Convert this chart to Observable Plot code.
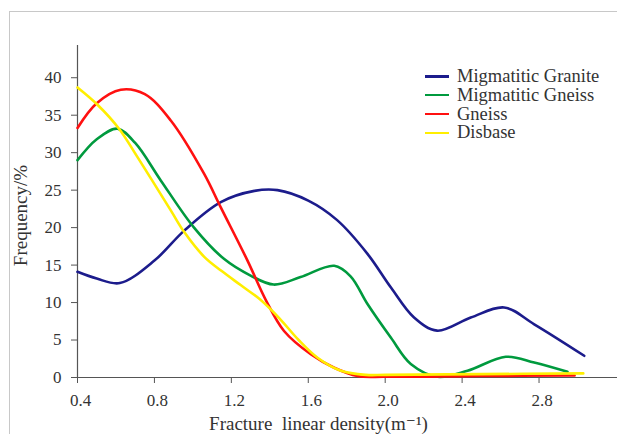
<!DOCTYPE html>
<html><head><meta charset="utf-8">
<script src="https://cdn.jsdelivr.net/npm/d3@7"></script>
<script src="https://cdn.jsdelivr.net/npm/@observablehq/plot@0.6"></script>
<style>
body{margin:0;background:#fff;}
#wrap{position:relative;width:617px;height:434px;overflow:hidden;background:#fff;}
#frame{position:absolute;left:9px;top:11px;width:700px;height:500px;border-top:1px solid #c8c8c8;border-left:1px solid #c8c8c8;pointer-events:none;}
#legend{position:absolute;left:425px;top:67px;font-family:"Liberation Serif","Times New Roman",Tinos,"DejaVu Serif",serif;font-size:18.5px;color:#333;}
.row{display:flex;align-items:center;height:18.8px;white-space:nowrap;}
.sw{width:24px;height:2.5px;margin-right:8px;}
</style>
</head><body>
<div id="wrap"></div>
<script>
const seriesNames = ["Migmatitic Granite", "Migmatitic Gneiss", "Gneiss", "Disbase"];
const seriesColors = ["#1c1c8c", "#009a3e", "#ff1010", "#ffee00"];

const granX = [0.4, 0.5, 0.62, 0.8, 0.955, 1.145, 1.32, 1.44, 1.6, 1.75, 1.908, 2.03, 2.15, 2.27, 2.445, 2.618, 2.775, 3.035];
const granF = [14.1, 13.2, 12.6, 15.6, 19.6, 23.4, 24.9, 25.0, 23.6, 21.0, 16.5, 12.0, 8.0, 6.25, 8.0, 9.35, 7.1, 2.9];

const mgnX = [0.4, 0.5, 0.608, 0.7, 0.833, 1.006, 1.163, 1.3, 1.42, 1.56, 1.735, 1.82, 1.908, 2.03, 2.133, 2.272, 2.428, 2.627, 2.775, 2.948];
const mgnF = [29.0, 31.8, 33.2, 31.3, 26.3, 20.0, 15.8, 13.6, 12.4, 13.4, 14.9, 13.5, 9.8, 5.3, 1.8, 0.1, 0.9, 2.77, 2.0, 0.76];

const gnX = [0.4, 0.5, 0.625, 0.75, 0.885, 1.058, 1.145, 1.284, 1.38, 1.474, 1.613, 1.735, 1.856, 2.0, 2.5, 2.985];
const gnF = [33.3, 36.6, 38.4, 37.8, 34.3, 27.2, 22.7, 15.6, 10.3, 6.2, 3.1, 1.3, 0.2, 0.1, 0.2, 0.27];

const disX = [0.4, 0.504, 0.616, 0.712, 0.885, 0.955, 1.059, 1.15, 1.25, 1.35, 1.45, 1.55, 1.65, 1.77, 1.9, 2.0, 2.5, 3.03];
const disF = [38.7, 36.4, 33.2, 29.4, 22.3, 19.4, 16.1, 14.2, 12.3, 10.4, 7.9, 5.0, 2.6, 0.9, 0.35, 0.35, 0.45, 0.55];

const xTicks = [0.4, 0.8, 1.2, 1.6, 2.0, 2.4, 2.8];
const yTicks = [0, 5, 10, 15, 20, 25, 30, 35, 40];
const xLabel = "Fracture  linear density(m\u207B\u00B9)";
const yLabel = "Frequency/%";

const allX = [granX, mgnX, gnX, disX];
const allF = [granF, mgnF, gnF, disF];
const rows = [];
seriesNames.forEach((name, i) => {
  allX[i].forEach((x, j) => rows.push({series: name, x, f: allF[i][j]}));
});

const serif = "'Liberation Serif', 'Times New Roman', Tinos, 'DejaVu Serif', serif";
const fmt = d => d.toFixed(1);
const chart = Plot.plot({
  width: 617, height: 434,
  marginLeft: 77, marginRight: 0, marginTop: 45, marginBottom: 57,
  style: {fontFamily: serif, fontSize: "17px", color: "#333", background: "transparent"},
  x: {domain: [0.4, 3.208]},
  y: {domain: [0, 44.3]},
  color: {domain: seriesNames, range: seriesColors},
  marks: [
    Plot.axisX({ticks: xTicks, tickSize: 6, tickFormat: () => "", label: null, stroke: "#555"}),
    Plot.axisX({ticks: xTicks, tickSize: 0, tickPadding: 16, dx: 3, tickFormat: fmt, label: null, fill: "#333"}),
    Plot.axisY({ticks: yTicks, tickSize: 6, tickPadding: 10, label: null, stroke: "#555", fill: "#333"}),
    Plot.ruleY([0], {stroke: "#555", strokeWidth: 1.2}),
    Plot.ruleX([0.4], {stroke: "#555", strokeWidth: 1.2}),
    Plot.line(rows, {x: "x", y: "f", z: "series", stroke: "series", curve: "catmull-rom", strokeWidth: 2.6}),
    Plot.text([yLabel], {frameAnchor: "left", dx: -57, dy: 4, rotate: -90, fontSize: 19, fill: "#333", textAnchor: "middle", lineAnchor: "middle"}),
    Plot.text([xLabel], {frameAnchor: "bottom", dx: -29, dy: 46, fontSize: 19, fill: "#333", textAnchor: "middle", lineAnchor: "middle"})
  ]
});
const wrap = document.getElementById("wrap");
wrap.appendChild(chart);
const frame = document.createElement("div");
frame.id = "frame";
wrap.appendChild(frame);
const legend = document.createElement("div");
legend.id = "legend";
seriesNames.forEach((n, i) => {
  const r = document.createElement("div");
  r.className = "row";
  const s = document.createElement("span");
  s.className = "sw";
  s.style.background = seriesColors[i];
  const t = document.createElement("span");
  t.textContent = n;
  r.appendChild(s); r.appendChild(t);
  legend.appendChild(r);
});
wrap.appendChild(legend);
</script>
</body></html>
